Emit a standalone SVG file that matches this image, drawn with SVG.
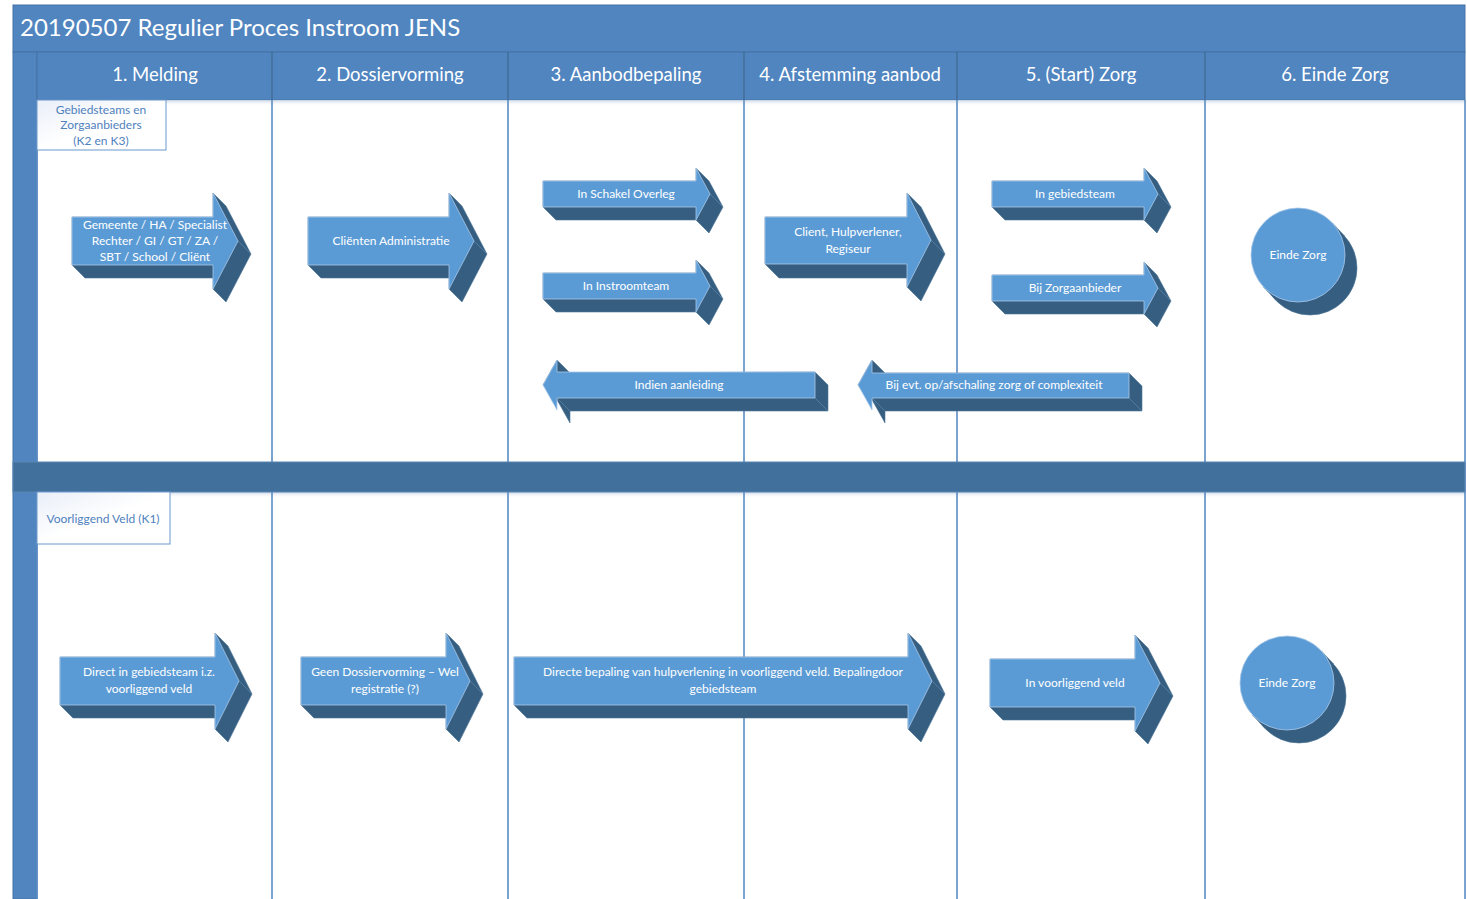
<svg xmlns="http://www.w3.org/2000/svg" width="1467" height="899" viewBox="0 0 1467 899">
<defs>
<style>
.bar{fill:#5085bf;stroke:#4673a8;stroke-width:1}
.sep{fill:#41709c;stroke:#5a86b3;stroke-width:1}
.lane{stroke:#5a8cc4;stroke-width:1.6;fill:none}
.front{fill:#5b9bd5;stroke:#a8c8e8;stroke-width:0.8;stroke-linejoin:round}
.side{fill:#365e80;stroke:#4d7597;stroke-width:0.6;stroke-linejoin:round}
.edge{stroke:#5e86a8;stroke-width:0.7}
.t{font-family:Lato,"Open Sans",sans-serif;fill:#ffffff;text-anchor:middle;font-size:12px}
.h{font-family:Lato,"Open Sans",sans-serif;fill:#ffffff;text-anchor:middle;font-size:18.5px}
.lbl{font-family:Lato,"Open Sans",sans-serif;fill:#4f81bd;text-anchor:middle;font-size:12px}
.lblbox{fill:url(#lg);stroke:#6a98cc;stroke-width:1}
</style>
<linearGradient id="lg" x1="0" y1="0" x2="1" y2="1">
<stop offset="0" stop-color="#e9eef8"/>
<stop offset="0.5" stop-color="#ffffff"/>
</linearGradient>
<linearGradient id="sh" x1="0" y1="0" x2="0" y2="1">
<stop offset="0" stop-color="#c9d6e6"/>
<stop offset="1" stop-color="#ffffff" stop-opacity="0"/>
</linearGradient>
</defs>
<rect width="1467" height="899" fill="#ffffff"/>
<g id="frame">
<rect class="bar" x="13" y="5" width="1452" height="47"/>
<text x="20" y="36" font-family="Lato,'Open Sans',sans-serif" font-size="24" fill="#ffffff">20190507 Regulier Proces Instroom JENS</text>
<rect class="bar" x="13" y="52" width="24" height="847"/>
<rect class="bar" x="37" y="52" width="1428" height="48"/>
<rect x="37" y="100" width="1428" height="6" fill="url(#sh)"/>
<rect x="37" y="492" width="1428" height="6" fill="url(#sh)"/>
<g class="lane">
<line x1="272" y1="52" x2="272" y2="100" stroke="#41709c"/>
<line x1="508" y1="52" x2="508" y2="100" stroke="#41709c"/>
<line x1="744" y1="52" x2="744" y2="100" stroke="#41709c"/>
<line x1="957" y1="52" x2="957" y2="100" stroke="#41709c"/>
<line x1="1205" y1="52" x2="1205" y2="100" stroke="#41709c"/>
<line x1="37" y1="100" x2="37" y2="899"/>
<line x1="272" y1="100" x2="272" y2="899"/>
<line x1="508" y1="100" x2="508" y2="899"/>
<line x1="744" y1="100" x2="744" y2="899"/>
<line x1="957" y1="100" x2="957" y2="899"/>
<line x1="1205" y1="100" x2="1205" y2="899"/>
<line x1="1465" y1="100" x2="1465" y2="899"/>
</g>
<rect class="sep" x="13" y="462" width="1452" height="30"/>
<text class="h" x="155" y="81">1. Melding</text>
<text class="h" x="390" y="81">2. Dossiervorming</text>
<text class="h" x="626" y="81">3. Aanbodbepaling</text>
<text class="h" x="850" y="81">4. Afstemming aanbod</text>
<text class="h" x="1081" y="81">5. (Start) Zorg</text>
<text class="h" x="1335" y="81">6. Einde Zorg</text>
</g>
<g id="lane-k2k3">
<rect class="lblbox" x="37" y="100" width="129" height="50"/>
<text class="lbl" x="101" y="114">Gebiedsteams en</text>
<text class="lbl" x="101" y="129">Zorgaanbieders</text>
<text class="lbl" x="101" y="145">(K2 en K3)</text>
</g>
<g id="lane-k1">
<rect class="lblbox" x="37" y="492" width="133" height="52"/>
<text class="lbl" x="103" y="523">Voorliggend Veld (K1)</text>
</g>
<g id="connectors"></g>
<g id="n-melding">
<polygon class="side" points="72,265 85,278 213,278 213,289 226,302 251,254 226,206 213,193 213,217 72,217"/>
<line class="edge" x1="213" y1="289" x2="226" y2="302"/><line class="edge" x1="238" y1="241" x2="251" y2="254"/>
<polygon class="front" points="72,217 213,217 213,193 238,241 213,289 213,265 72,265"/>
<text class="t" x="155" y="229">Gemeente / HA / Specialist</text>
<text class="t" x="155" y="245">Rechter / GI / GT / ZA /</text>
<text class="t" x="155" y="261">SBT / School / Cliënt</text>
</g>
<g id="n-clienten">
<polygon class="side" points="308,265 321,278 449,278 449,289 462,302 487,254 462,206 449,193 449,217 308,217"/>
<line class="edge" x1="449" y1="289" x2="462" y2="302"/><line class="edge" x1="474" y1="241" x2="487" y2="254"/>
<polygon class="front" points="308,217 449,217 449,193 474,241 449,289 449,265 308,265"/>
<text class="t" x="391" y="245">Cliënten Administratie</text>
</g>
<g id="n-schakel">
<polygon class="side" points="543,207 556,220 696,220 709,233 723,207 709,181 696,168 696,181 543,181"/>
<line class="edge" x1="696" y1="220" x2="709" y2="233"/><line class="edge" x1="710" y1="194" x2="723" y2="207"/>
<polygon class="front" points="543,181 696,181 696,168 710,194 696,220 696,207 543,207"/>
<text class="t" x="626" y="198">In Schakel Overleg</text>
</g>
<g id="n-instroomteam">
<polygon class="side" points="543,299 556,312 696,312 709,325 723,299 709,273 696,260 696,273 543,273"/>
<line class="edge" x1="696" y1="312" x2="709" y2="325"/><line class="edge" x1="710" y1="286" x2="723" y2="299"/>
<polygon class="front" points="543,273 696,273 696,260 710,286 696,312 696,299 543,299"/>
<text class="t" x="626" y="290">In Instroomteam</text>
</g>
<g id="n-indien">
<polygon class="side" points="557,360 570,373 815,372 828,385 828,411 570,411 570,423 556,398 543,385"/>
<line class="edge" x1="557" y1="398" x2="570" y2="411"/><line class="edge" x1="815" y1="398" x2="828" y2="411"/>
<polygon class="front" points="543,385 557,360 557,372 815,372 815,398 557,398 557,410"/>
<text class="t" x="679" y="389">Indien aanleiding</text>
</g>
<g id="n-client">
<polygon class="side" points="765,264 779,278 907,278 907,287 921,301 945,254 921,207 907,193 907,217 765,217"/>
<line class="edge" x1="907" y1="287" x2="921" y2="301"/><line class="edge" x1="931" y1="240" x2="945" y2="254"/>
<polygon class="front" points="765,217 907,217 907,193 931,240 907,287 907,264 765,264"/>
<text class="t" x="848" y="236">Client, Hulpverlener,</text>
<text class="t" x="848" y="253">Regiseur</text>
</g>
<g id="n-bijevt">
<polygon class="side" points="872,360 885,373 1129,373 1142,386 1142,411 885,411 885,423 871,398 858,385"/>
<line class="edge" x1="872" y1="398" x2="885" y2="411"/><line class="edge" x1="1129" y1="398" x2="1142" y2="411"/>
<polygon class="front" points="858,385 872,360 872,373 1129,373 1129,398 872,398 872,410"/>
<text class="t" x="994" y="389">Bij evt. op/afschaling zorg of complexiteit</text>
</g>
<g id="n-ingebiedsteam">
<polygon class="side" points="992,207 1005,220 1144,220 1157,233 1171,207 1157,181 1144,168 1144,181 992,181"/>
<line class="edge" x1="1144" y1="220" x2="1157" y2="233"/><line class="edge" x1="1158" y1="194" x2="1171" y2="207"/>
<polygon class="front" points="992,181 1144,181 1144,168 1158,194 1144,220 1144,207 992,207"/>
<text class="t" x="1075" y="198">In gebiedsteam</text>
</g>
<g id="n-bijzorg">
<polygon class="side" points="992,301 1005,314 1144,314 1157,327 1171,301 1157,275 1144,262 1144,275 992,275"/>
<line class="edge" x1="1144" y1="314" x2="1157" y2="327"/><line class="edge" x1="1158" y1="288" x2="1171" y2="301"/>
<polygon class="front" points="992,275 1144,275 1144,262 1158,288 1144,314 1144,301 992,301"/>
<text class="t" x="1075" y="292">Bij Zorgaanbieder</text>
</g>
<g id="n-einde1">
<circle class="side" cx="1310" cy="268" r="47"/>
<polygon class="side" stroke="none" points="1332.5,223.1 1344.5,236.1 1275.5,299.9 1263.5,286.9"/>
<circle class="front" cx="1298" cy="255" r="47"/>
<text class="t" x="1298" y="259">Einde Zorg</text>
</g>
<g id="n-direct">
<polygon class="side" points="60,705 73,718 215,718 215,729 228,742 252,694 228,646 215,633 215,657 60,657"/>
<line class="edge" x1="215" y1="729" x2="228" y2="742"/><line class="edge" x1="239" y1="681" x2="252" y2="694"/>
<polygon class="front" points="60,657 215,657 215,633 239,681 215,729 215,705 60,705"/>
<text class="t" x="149" y="676">Direct in gebiedsteam i.z.</text>
<text class="t" x="149" y="693">voorliggend veld</text>
</g>
<g id="n-geen">
<polygon class="side" points="301,705 314,718 446,718 446,729 459,742 483,694 459,646 446,633 446,657 301,657"/>
<line class="edge" x1="446" y1="729" x2="459" y2="742"/><line class="edge" x1="470" y1="681" x2="483" y2="694"/>
<polygon class="front" points="301,657 446,657 446,633 470,681 446,729 446,705 301,705"/>
<text class="t" x="385" y="676">Geen Dossiervorming – Wel</text>
<text class="t" x="385" y="693">registratie (?)</text>
</g>
<g id="n-directe">
<polygon class="side" points="514,705 527,718 908,718 908,729 921,742 945,694 921,646 908,633 908,657 514,657"/>
<line class="edge" x1="908" y1="729" x2="921" y2="742"/><line class="edge" x1="932" y1="681" x2="945" y2="694"/>
<polygon class="front" points="514,657 908,657 908,633 932,681 908,729 908,705 514,705"/>
<text class="t" x="723" y="676">Directe bepaling van hulpverlening in voorliggend veld. Bepalingdoor</text>
<text class="t" x="723" y="693">gebiedsteam</text>
</g>
<g id="n-voorliggend">
<polygon class="side" points="990,707 1003,720 1135,720 1135,731 1148,744 1173,696 1148,648 1135,635 1135,659 990,659"/>
<line class="edge" x1="1135" y1="731" x2="1148" y2="744"/><line class="edge" x1="1160" y1="683" x2="1173" y2="696"/>
<polygon class="front" points="990,659 1135,659 1135,635 1160,683 1135,731 1135,707 990,707"/>
<text class="t" x="1075" y="687">In voorliggend veld</text>
</g>
<g id="n-einde2">
<circle class="side" cx="1299" cy="696" r="47"/>
<polygon class="side" stroke="none" points="1321.5,651.1 1333.5,664.1 1264.5,727.9 1252.5,714.9"/>
<circle class="front" cx="1287" cy="683" r="47"/>
<text class="t" x="1287" y="687">Einde Zorg</text>
</g>
</svg>
